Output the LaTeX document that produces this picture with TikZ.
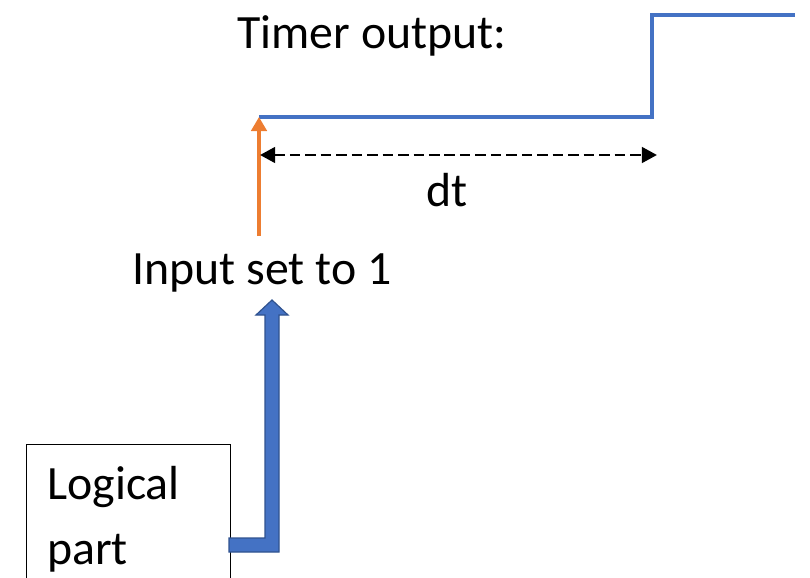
\documentclass[tikz,border=0pt]{standalone}
\usepackage{fontspec}
\setmainfont{Carlito}
\usepackage{tikz}
\usetikzlibrary{positioning,arrows.meta}

\definecolor{timerblu}{HTML}{4472C4}
\definecolor{bordoblu}{HTML}{2F528F}
\definecolor{arancio}{HTML}{ED7D31}

\begin{document}
\begin{tikzpicture}[x=0.025cm, y=-0.025cm,
		testo/.style={font=\fontsize{34}{34}\selectfont, inner sep=0pt},
		segnale/.style={timerblu, line width=2.85pt},
		freccia/.style={fill=timerblu, draw=bordoblu, line width=0.85pt, line join=miter}]
	\useasboundingbox (0,0) rectangle (810,578);
	
	% Uscita del timer
	\node[testo] (titolo) at (372,36) {Timer output:};
	\coordinate (t0) at (259,117);
	\coordinate (t1) at (652,117);
	\coordinate (t2) at (652,15);
	\coordinate (t3) at (795,15);
	\draw[segnale] (t0) -- (t1) -- (t2) -- (t3);
	
	% Ingresso (freccia arancione)
	\coordinate (in0) at (259,236);
	\draw[arancio, line width=2.4pt, -{Triangle[length=10pt, width=11pt]}] (in0) -- (t0);
	
	% Intervallo dt
	\coordinate (dtsx) at (260,155);
	\coordinate (dtdx) at (657,155);
	\draw[black, line width=2.1pt, dash pattern=on 7.5pt off 3.5pt,
		{Triangle[length=10.7pt, width=11pt]}-{Triangle[length=10.7pt, width=11pt]}] (dtsx) -- (dtdx);
	\node[testo] (dt) at (447,190) {dt};
	
	\node[testo] (ingresso) at (262,273) {Input set to 1};
	
	% Blocco logico
	\node[draw, line width=0.8pt, anchor=north west, minimum width=5.1cm, minimum height=4cm,
		inner sep=0pt] (logica) at (26,444) {};
	\node[testo, align=left, anchor=north west, font=\fontsize{34}{46}\selectfont] (testologica) at (47,466) {Logical\\part};
	
	% Freccia a blocco verso l'ingresso
	\draw[freccia] (229,538) -- (265,538) -- (265,315) -- (256,315) -- (272,300)
		-- (288,315) -- (279,315) -- (279,552) -- (229,552) -- cycle;
\end{tikzpicture}
\end{document}
